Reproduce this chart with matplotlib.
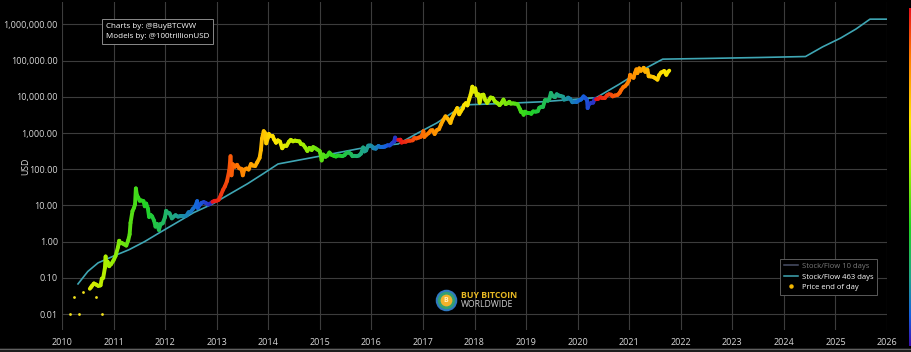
import numpy as np
import pandas as pd
import matplotlib
matplotlib.use("Agg")
import matplotlib.pyplot as plt
from matplotlib.collections import LineCollection
from matplotlib.colors import LinearSegmentedColormap
from matplotlib.lines import Line2D
from matplotlib.patches import Rectangle

plt.rcParams['font.family'] = ['Open Sans', 'DejaVu Sans']

# --- data --------------------------------------------------------------------
# early "price end of day" dots (rounded quotes in 2010)
early_dates = ["2010-02-26", "2010-04-30", "2010-03-30", "2010-05-30", "2010-08-28", "2010-10-08"]
early_usd = [0.01, 0.01, 0.03, 0.04, 0.03, 0.01]

price_dates = [
    "2010-07-17", "2010-07-25", "2010-08-01", "2010-08-15", "2010-09-01", "2010-09-15",
    "2010-10-01", "2010-10-10", "2010-10-20", "2010-11-01", "2010-11-06", "2010-11-10",
    "2010-11-20", "2010-12-01", "2010-12-15", "2010-12-31",
    "2011-01-15", "2011-02-01", "2011-02-10", "2011-02-20", "2011-03-01", "2011-03-15",
    "2011-04-01", "2011-04-15", "2011-04-25", "2011-05-01", "2011-05-15", "2011-05-25",
    "2011-06-02", "2011-06-08", "2011-06-15", "2011-06-25", "2011-07-05", "2011-07-15",
    "2011-08-01", "2011-08-10", "2011-08-20", "2011-09-01", "2011-09-10", "2011-09-20",
    "2011-10-01", "2011-10-15", "2011-10-25", "2011-11-05", "2011-11-18", "2011-12-01",
    "2011-12-15", "2011-12-31",
    "2012-01-08", "2012-01-20", "2012-02-01", "2012-02-18", "2012-03-01", "2012-03-15",
    "2012-04-01", "2012-04-15", "2012-05-01", "2012-05-15", "2012-06-01", "2012-06-15",
    "2012-07-01", "2012-07-15", "2012-08-01", "2012-08-15", "2012-08-19", "2012-09-01",
    "2012-09-15", "2012-10-01", "2012-10-15", "2012-11-01", "2012-11-15", "2012-12-01",
    "2012-12-15", "2012-12-31",
    "2013-01-15", "2013-02-01", "2013-02-15", "2013-03-01", "2013-03-15", "2013-03-31",
    "2013-04-09", "2013-04-16", "2013-04-25", "2013-05-10", "2013-05-25", "2013-06-10",
    "2013-06-25", "2013-07-05", "2013-07-15", "2013-08-01", "2013-08-15", "2013-09-01",
    "2013-09-15", "2013-10-01", "2013-10-15", "2013-11-01", "2013-11-10", "2013-11-18",
    "2013-11-30", "2013-12-10", "2013-12-18", "2013-12-31",
    "2014-01-05", "2014-01-15", "2014-02-01", "2014-02-10", "2014-02-25", "2014-03-10",
    "2014-03-25", "2014-04-10", "2014-04-25", "2014-05-10", "2014-05-28", "2014-06-10",
    "2014-06-25", "2014-07-10", "2014-07-25", "2014-08-10", "2014-08-20", "2014-09-05",
    "2014-09-20", "2014-10-05", "2014-10-20", "2014-11-05", "2014-11-15", "2014-12-01",
    "2014-12-15", "2014-12-31",
    "2015-01-05", "2015-01-14", "2015-01-25", "2015-02-10", "2015-02-25", "2015-03-10",
    "2015-03-25", "2015-04-10", "2015-04-25", "2015-05-10", "2015-05-25", "2015-06-10",
    "2015-06-25", "2015-07-10", "2015-07-25", "2015-08-10", "2015-08-20", "2015-09-05",
    "2015-09-20", "2015-10-05", "2015-10-20", "2015-11-04", "2015-11-12", "2015-11-25",
    "2015-12-10", "2015-12-25",
    "2016-01-05", "2016-01-15", "2016-02-01", "2016-02-20", "2016-03-05", "2016-03-20",
    "2016-04-05", "2016-04-25", "2016-05-10", "2016-05-28", "2016-06-10", "2016-06-17",
    "2016-06-25", "2016-07-09", "2016-07-25", "2016-08-02", "2016-08-15", "2016-09-01",
    "2016-09-15", "2016-10-01", "2016-10-20", "2016-11-01", "2016-11-15", "2016-12-01",
    "2016-12-15", "2016-12-31",
    "2017-01-04", "2017-01-11", "2017-01-25", "2017-02-10", "2017-02-25", "2017-03-10",
    "2017-03-25", "2017-04-10", "2017-04-25", "2017-05-10", "2017-05-25", "2017-06-10",
    "2017-06-25", "2017-07-15", "2017-07-25", "2017-08-10", "2017-08-25", "2017-09-01",
    "2017-09-15", "2017-09-25", "2017-10-10", "2017-10-20", "2017-11-01", "2017-11-12",
    "2017-11-25", "2017-12-05", "2017-12-17", "2017-12-22", "2017-12-31",
    "2018-01-06", "2018-01-17", "2018-01-28", "2018-02-06", "2018-02-20", "2018-03-05",
    "2018-03-18", "2018-04-01", "2018-04-15", "2018-04-25", "2018-05-10", "2018-05-25",
    "2018-06-10", "2018-06-28", "2018-07-10", "2018-07-25", "2018-08-10", "2018-08-25",
    "2018-09-05", "2018-09-15", "2018-10-01", "2018-10-15", "2018-11-01", "2018-11-20",
    "2018-11-25", "2018-12-05", "2018-12-15", "2018-12-25",
    "2019-01-10", "2019-01-25", "2019-02-07", "2019-02-20", "2019-03-10", "2019-03-25",
    "2019-04-05", "2019-04-20", "2019-05-01", "2019-05-15", "2019-05-25", "2019-06-05",
    "2019-06-15", "2019-06-26", "2019-07-05", "2019-07-15", "2019-07-25", "2019-08-06",
    "2019-08-20", "2019-09-05", "2019-09-20", "2019-09-26", "2019-10-10", "2019-10-26",
    "2019-11-10", "2019-11-25", "2019-12-10", "2019-12-25",
    "2020-01-10", "2020-01-25", "2020-02-12", "2020-02-25", "2020-03-08", "2020-03-12",
    "2020-03-20", "2020-04-05", "2020-04-20", "2020-04-30", "2020-05-11", "2020-05-25",
    "2020-06-10", "2020-06-25", "2020-07-10", "2020-07-27", "2020-08-10", "2020-08-25",
    "2020-09-05", "2020-09-20", "2020-10-10", "2020-10-25", "2020-11-05", "2020-11-20",
    "2020-12-01", "2020-12-17", "2020-12-31",
    "2021-01-08", "2021-01-20", "2021-02-01", "2021-02-10", "2021-02-21", "2021-02-28",
    "2021-03-13", "2021-03-25", "2021-04-14", "2021-04-25", "2021-05-10", "2021-05-19",
    "2021-06-01", "2021-06-20", "2021-07-01", "2021-07-20", "2021-08-01", "2021-08-15",
    "2021-09-06", "2021-09-21", "2021-10-01", "2021-10-12",
]
price_usd = [
    0.05, 0.055, 0.06, 0.07, 0.065, 0.06,
    0.062, 0.095, 0.10, 0.19, 0.39, 0.22,
    0.28, 0.21, 0.24, 0.30,
    0.40, 0.70, 1.06, 0.90, 0.92, 0.85,
    0.78, 1.1, 1.6, 3.3, 7.0, 8.5,
    10.6, 29.6, 19.5, 16.5, 13.5, 13.8,
    13.2, 9.5, 11.3, 8.2, 4.8, 5.5,
    5.0, 3.8, 2.6, 3.1, 2.1, 3.1,
    3.2, 4.7,
    7.1, 6.3, 6.1, 4.4, 4.9, 5.4,
    4.9, 5.0, 5.0, 5.0, 5.3, 6.5,
    6.7, 8.0, 9.5, 13.2, 8.5, 10.2,
    11.8, 12.4, 11.7, 10.6, 11.2, 12.6,
    13.4, 13.5,
    14.3, 20, 27, 34, 47, 93,
    230, 68, 138, 117, 133, 106,
    103, 68, 98, 105, 98, 140,
    126, 123, 155, 206, 338, 700,
    1130, 1000, 520, 760,
    950, 840, 830, 680, 540, 630,
    580, 380, 450, 440, 580, 650,
    590, 620, 600, 590, 500, 480,
    400, 320, 390, 340, 410, 380,
    350, 320,
    275, 175, 255, 220, 240, 290,
    250, 235, 225, 240, 237, 230,
    245, 285, 290, 265, 230, 235,
    230, 240, 270, 400, 310, 330,
    450, 455,
    430, 380, 370, 440, 410, 410,
    420, 460, 455, 530, 580, 750,
    650, 650, 655, 545, 570, 575,
    610, 615, 630, 730, 710, 750,
    780, 960,
    1130, 780, 890, 990, 1180, 1200,
    940, 1210, 1280, 1750, 2300, 2900,
    2500, 1900, 2550, 3400, 4300, 4900,
    3300, 3900, 4800, 6000, 6700, 5800,
    8700, 11600, 19100, 14000, 14100,
    17200, 11000, 11800, 6900, 11200, 11500,
    8200, 6800, 8300, 9600, 9300, 7500,
    6800, 5900, 6700, 8400, 6300, 6700,
    7300, 6500, 6600, 6500, 6300, 4500,
    3900, 3900, 3200, 3900,
    3600, 3550, 3400, 3950, 3900, 4000,
    5000, 5300, 5300, 8000, 8000, 7800,
    8800, 12900, 11000, 10200, 9800, 11800,
    10900, 10500, 10100, 8400, 8600, 9500,
    8800, 7100, 7300, 7200,
    8000, 8400, 10300, 9300, 8000, 4900,
    6200, 6800, 6900, 8600, 8600, 8800,
    9800, 9200, 9200, 11000, 11800, 11500,
    10300, 10900, 11300, 13000, 15600, 18700,
    19600, 22800, 29000,
    40600, 35500, 33500, 44800, 57500, 45200,
    61200, 52300, 63500, 49000, 56000, 37000,
    36700, 35500, 33500, 29800, 39900, 47000,
    51800, 40600, 48200, 53000,
]

# Stock/Flow model, 463 day average (decimal years)
sf463_year = [2010.31, 2010.5, 2010.7, 2011.0, 2011.3, 2011.6, 2011.9, 2012.2, 2012.55,
              2012.92, 2013.26, 2013.6, 2013.9, 2014.19, 2015.0, 2015.84, 2016.52,
              2016.9, 2017.27, 2017.55, 2017.8, 2018.5, 2019.3, 2020.36,
              2020.8, 2021.2, 2021.65, 2022.5, 2023.5, 2024.42,
              2024.75, 2025.1, 2025.4, 2025.67, 2026.0]
sf463_usd = [0.068, 0.15, 0.26, 0.40, 0.6, 1.0, 1.8, 3.2, 6.3,
             11, 21, 40, 75, 140, 230, 390, 500,
             1000, 1900, 3500, 6000, 6500, 7300, 9500,
             22000, 50000, 110000, 115000, 122000, 130000,
             240000, 420000, 750000, 1400000, 1400000]

halving_years = [2009.01, 2012.91, 2016.52, 2020.36, 2024.30]
year_ticks = list(range(2010, 2027))
usd_ticks = [0.01, 0.1, 1, 10, 100, 1000, 10000, 100000, 1000000]

# --- helpers -----------------------------------------------------------------
def to_year(dates):
    d = pd.to_datetime(dates)
    return np.asarray(d.year + (d.dayofyear - 1) / 365.25, dtype=float)

halving_cmap = LinearSegmentedColormap.from_list("halving", [
    (0.00, "#e8101a"), (0.14, "#ff7a00"), (0.33, "#ffe600"), (0.47, "#a8f000"),
    (0.65, "#22d422"), (0.80, "#1fa58a"), (0.91, "#1560e0"), (1.00, "#3a10b0")])

def cycle_phase(years):
    h = np.array(halving_years)
    i = np.searchsorted(h, years, side="right") - 1
    return (years - h[i]) / (h[i + 1] - h[i])

# --- figure ------------------------------------------------------------------
W, H = 912, 352
fig = plt.figure(figsize=(W / 100, H / 100), dpi=100, facecolor="black")
ax = fig.add_axes([62 / W, 1 - 330 / H, (887 - 62) / W, 328 / H])
ax.set_facecolor("black")
ax.set_yscale("log")
ax.set_xlim(2010, 2026)
ax.set_ylim(10 ** -2.44, 10 ** 6.62)

ax.set_xticks(year_ticks)
ax.set_xticklabels([str(y) for y in year_ticks])
ax.set_yticks(usd_ticks)
ax.set_yticklabels([f"{v:,.2f}" for v in usd_ticks])
ax.yaxis.set_minor_locator(matplotlib.ticker.NullLocator())
ax.tick_params(length=0, colors="#d8d8d8", labelsize=6.5)
ax.tick_params(axis="x", pad=6)
ax.tick_params(axis="y", pad=3)
ax.grid(True, color="#3c3c3c", linewidth=0.8)
ax.set_axisbelow(True)
for s in ax.spines.values():
    s.set_visible(False)
ax.set_ylabel("USD", color="#d8d8d8", fontsize=6.3)
ax.yaxis.set_label_coords((30 - 62) / 825, 0.5)

# stock/flow model line
ax.plot(sf463_year, sf463_usd, color="#3fa6b4", linewidth=1.2, zorder=2)

# price, coloured by position in the halving cycle
py = to_year(price_dates)
pv = np.array(price_usd)
pts = np.column_stack([py, pv])
segs = np.stack([pts[:-1], pts[1:]], axis=1)
mid = (py[:-1] + py[1:]) / 2
lc = LineCollection(segs, colors=halving_cmap(cycle_phase(mid) * 0.97),
                    linewidths=2.8, capstyle="round", joinstyle="round", zorder=3)
ax.add_collection(lc)

ey = to_year(early_dates)
ax.scatter(ey, early_usd, s=4, color="#f2e21c", zorder=3, linewidths=0)

# legend
handles = [
    Line2D([], [], color="#4a5068", linewidth=1.1),
    Line2D([], [], color="#3fa6b4", linewidth=1.1),
    Line2D([], [], color="#f5b800", marker="o", markersize=2.2, linestyle="none"),
]
labels = ["Stock/Flow 10 days", "Stock/Flow 463 days", "Price end of day"]
leg = ax.legend(handles, labels, loc="upper left", bbox_to_anchor=(780 / W, 1 - 259 / H),
                bbox_transform=fig.transFigure, fontsize=5.5, facecolor="black",
                edgecolor="#5a5a5a", framealpha=1, fancybox=False, handlelength=1.9,
                handletextpad=0.45, borderpad=0.5, labelspacing=0.4, borderaxespad=0)
leg.get_frame().set_linewidth(0.7)
for t, c in zip(leg.get_texts(), ["#7a7a7a", "white", "white"]):
    t.set_color(c)

# credits box
fig.text(106 / W, 1 - 31.5 / H, "Charts by: @BuyBTCWW\nModels by: @100trillionUSD",
         color="white", fontsize=5.8, va="center", ha="left", linespacing=1.6,
         bbox=dict(boxstyle="square,pad=0.45", facecolor="black", edgecolor="#8a8a8a",
                   linewidth=0.7))

# logo
lx, ly = 446 / W, 1 - 300 / H
fig.add_artist(Line2D([lx], [ly], marker="o", markersize=14, color="#34a070",
                      markeredgecolor="#2f78c0", markeredgewidth=1.5,
                      transform=fig.transFigure))
fig.add_artist(Line2D([lx], [ly], marker="o", markersize=8.5, color="#f2b22a",
                      markeredgewidth=0, transform=fig.transFigure))
fig.text(lx, ly, "B", color="#fff3c0", fontsize=5, fontweight="bold", ha="center",
         va="center")
fig.text(461 / W, 1 - 295 / H, "BUY BITCOIN", color="#e8b923", fontsize=6.3,
         fontweight="bold", ha="left", va="center")
fig.text(461 / W, 1 - 304.5 / H, "WORLDWIDE", color="#d0d0d0", fontsize=6.2,
         ha="left", va="center")

# colour bar strip at the right edge
cax = fig.add_axes([909 / W, 1 - 346 / H, 3 / W, 338 / H])
cax.imshow(np.linspace(0, 1, 256).reshape(-1, 1), cmap=halving_cmap, aspect="auto")
cax.axis("off")

# bottom border of the screenshot
fig.add_artist(Rectangle((0, 0), 1, 4 / H, transform=fig.transFigure,
                         facecolor="#1e1e1e", edgecolor="none"))
fig.add_artist(Rectangle((0, 2 / H), 1, 1.5 / H, transform=fig.transFigure,
                         facecolor="#606060", edgecolor="none"))

fig.savefig("out.png", dpi=100, facecolor="black")
